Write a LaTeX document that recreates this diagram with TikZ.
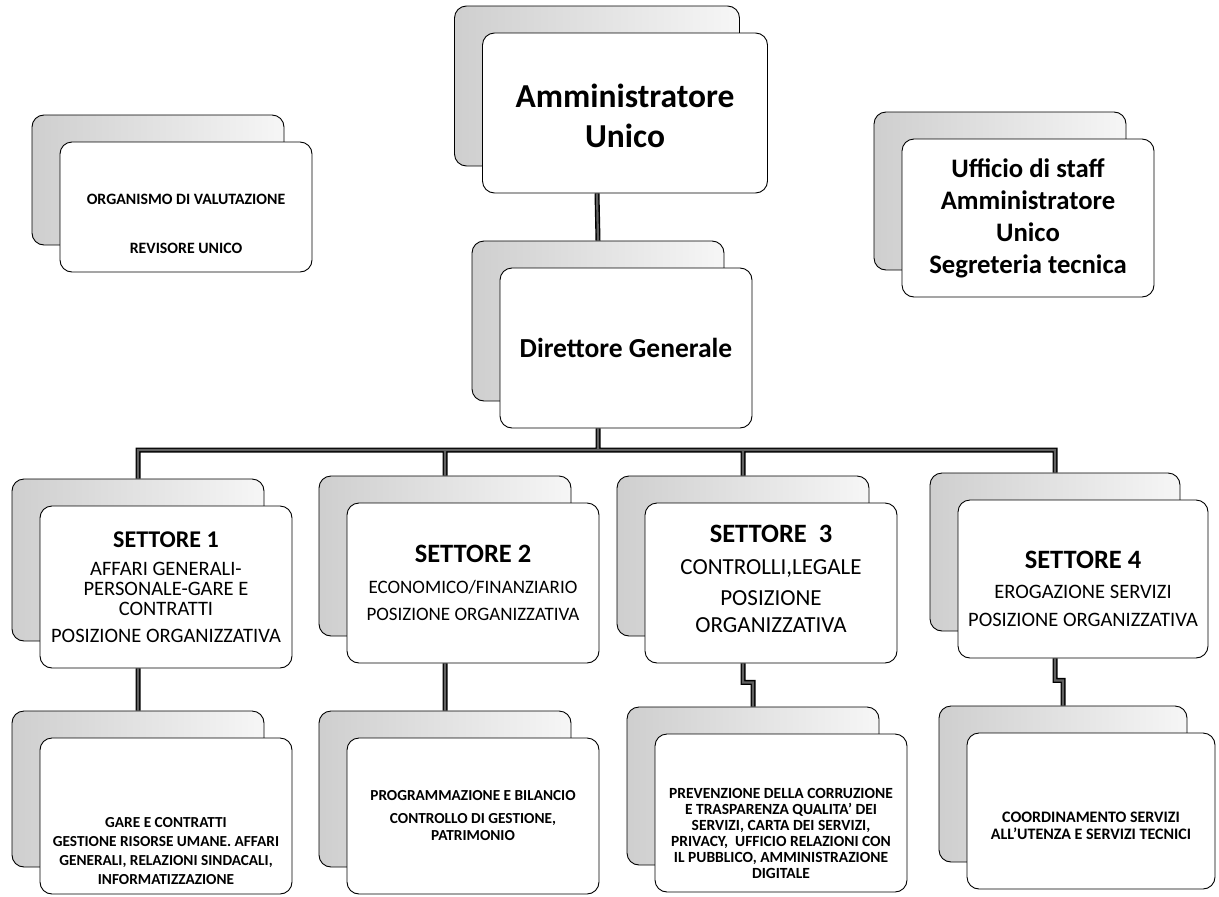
\documentclass[tikz,border=0pt]{standalone}
\usepackage{fontspec}
\setmainfont{Carlito}
\usetikzlibrary{positioning, calc}
\tikzset{
    backbox/.style={
        rectangle, draw=black, line width=0.9pt, rounded corners=12pt,
        left color=gray!38, middle color=gray!11, right color=gray!7,
        minimum width=252pt, minimum height=160pt
    },
    frontbox/.style={
        rectangle, draw=black, line width=0.9pt, rounded corners=12pt,
        fill=white, minimum width=252pt, minimum height=160pt
    },
    % Text Styles
    headtext/.style={align=center, font=\bfseries\fontsize{26.7}{32}\selectfont},
    settext/.style={align=center, font=\fontsize{20.5}{20}\selectfont},
    unittext/.style={align=center, font=\bfseries\fontsize{15.3}{19}\selectfont},
    link/.style={draw=black!62, line width=2.2pt, preaction={draw=black, line width=5pt}}
}
\newcommand{\settitle}[1]{{\bfseries\fontsize{26.5}{26}\selectfont #1}}

\begin{document}
\begin{tikzpicture}[x=1pt, y=-1pt]
    \useasboundingbox (0,0) rectangle (1219,897);

    % back boxes
    \node[backbox, minimum width=285pt] (ammb) at (597,86) {};
    \node[backbox, minimum height=130pt] (orgb) at (158,180) {};
    \node[backbox, minimum height=158pt] (uffb) at (1000,191) {};
    \node[backbox] (dirb) at (598,321) {};
    \node[backbox, minimum height=162pt] (s1b) at (138,560) {};
    \node[backbox] (s2b) at (445,556) {};
    \node[backbox] (s3b) at (743,556) {};
    \node[backbox, minimum width=250pt, minimum height=158pt] (s4b) at (1055,552) {};
    \node[backbox, minimum height=156pt] (l1b) at (138,789) {};
    \node[backbox, minimum height=156pt] (l2b) at (445,789) {};
    \node[backbox, minimum height=158pt] (l3b) at (753,786) {};
    \node[backbox, minimum width=248pt, minimum height=156pt] (l4b) at (1063,784) {};

    % front boxes
    \node[frontbox, minimum width=285pt] (amm) at ([shift={(28,27)}]ammb.center) {};
    \node[frontbox, minimum height=130pt] (org) at ([shift={(28,27)}]orgb.center) {};
    \node[frontbox, minimum height=158pt] (uff) at ([shift={(28,27)}]uffb.center) {};
    \node[frontbox] (dir) at ([shift={(28,27)}]dirb.center) {};
    \node[frontbox, minimum height=162pt] (s1) at ([shift={(28,27)}]s1b.center) {};
    \node[frontbox] (s2) at ([shift={(28,27)}]s2b.center) {};
    \node[frontbox] (s3) at ([shift={(28,27)}]s3b.center) {};
    \node[frontbox, minimum width=250pt, minimum height=158pt] (s4) at ([shift={(28,27)}]s4b.center) {};
    \node[frontbox, minimum height=156pt] (l1) at ([shift={(28,27)}]l1b.center) {};
    \node[frontbox, minimum height=156pt] (l2) at ([shift={(28,27)}]l2b.center) {};
    \node[frontbox, minimum height=158pt] (l3) at ([shift={(28,27)}]l3b.center) {};
    \node[frontbox, minimum width=248pt, minimum height=156pt] (l4) at ([shift={(28,27)}]l4b.center) {};

    \node[headtext, font=\bfseries\fontsize{33.5}{40}\selectfont] (ammt) at ([yshift=-3pt]amm.center) {Amministratore\\Unico};
    \node[unittext, font=\bfseries\fontsize{15.8}{16}\selectfont] (orgt) at ([yshift=-17pt]org.center) {ORGANISMO DI VALUTAZIONE\\[33pt]REVISORE UNICO};
    \node[headtext] (ufft) at (uff.center) {Ufficio di staff\\Amministratore\\Unico\\Segreteria tecnica};
    \node[headtext, font=\bfseries\fontsize{27.5}{32}\selectfont] (dirt) at (dir.center) {Direttore Generale};

    \node[settext] (s1t) at (s1.center) {\settitle{\fontsize{24}{24}\selectfont SETTORE 1}\\[8pt]AFFARI GENERALI-\\PERSONALE-GARE E\\CONTRATTI\\[7pt]POSIZIONE ORGANIZZATIVA};
    \node[settext, font=\fontsize{19}{20}\selectfont] (s2t) at (s2.center) {\settitle{SETTORE 2}\\[11pt]ECONOMICO/FINANZIARIO\\[7pt]POSIZIONE ORGANIZZATIVA};
    \node[settext, font=\fontsize{23}{27}\selectfont] (s3t) at ([yshift=4pt]s3.center) {\settitle{SETTORE~~3}\\[5pt]CONTROLLI,LEGALE\\[4pt]POSIZIONE\\ORGANIZZATIVA};
    \node[settext] (s4t) at ([yshift=-10pt]s4.center) {\settitle{SETTORE 4}\\[10pt]EROGAZIONE SERVIZI\\[8pt]POSIZIONE ORGANIZZATIVA};

    \node[unittext] (l1t) at ([yshift=-35pt]l1.center) {GARE E CONTRATTI\\GESTIONE RISORSE UMANE. AFFARI\\GENERALI, RELAZIONI SINDACALI,\\INFORMATIZZAZIONE};
    \node[unittext, font=\bfseries\fontsize{15.3}{17}\selectfont] (l2t) at (l2.center) {PROGRAMMAZIONE E BILANCIO\\[6pt]CONTROLLO DI GESTIONE,\\PATRIMONIO};
    \node[unittext, font=\bfseries\fontsize{15.5}{16}\selectfont] (l3t) at ([yshift=-20pt]l3.center) {PREVENZIONE DELLA CORRUZIONE\\E TRASPARENZA QUALITA’ DEI\\SERVIZI, CARTA DEI SERVIZI,\\PRIVACY,~ UFFICIO RELAZIONI CON\\IL PUBBLICO, AMMINISTRAZIONE\\DIGITALE};
    \node[unittext, font=\bfseries\fontsize{16}{17}\selectfont] (l4t) at ([yshift=-15pt]l4.center) {COORDINAMENTO SERVIZI\\ALL’UTENZA E SERVIZI TECNICI};

    \coordinate (bus) at (597,450);

    % all connectors as one path
    \draw[link] (ammb.center |- amm.south) -- (dirb.north)
        (dirb.center |- dir.south) -- (dirb.center |- bus)
        (s1b.north) -- (s1b.north |- bus) -- (s4b.north |- bus) -- (s4b.north)
        (s2b.north) -- (s2b.north |- bus)
        (s3b.north) -- (s3b.north |- bus)
        (s1b.center |- s1.south) -- (l1b.north)
        (s2b.center |- s2.south) -- (l2b.north)
        (s3b.center |- s3.south) -- ++(0,19) -| (l3b.north)
        (s4b.center |- s4.south) -- ++(0,22) -| (l4b.north);
\end{tikzpicture}
\end{document}
